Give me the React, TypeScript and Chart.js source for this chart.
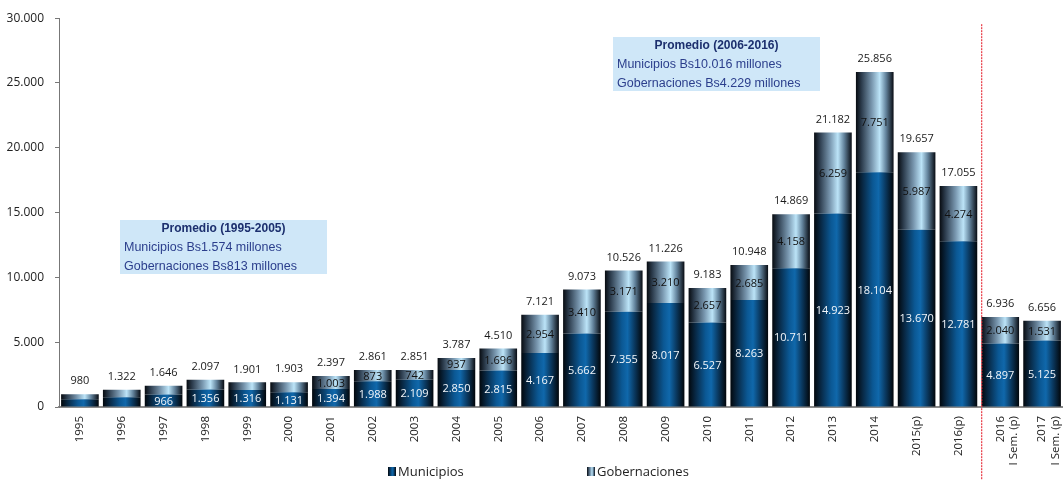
import React, { useEffect, useRef } from 'react';
import { Chart, registerables } from 'chart.js';

Chart.register(...registerables);

const categories: (string | string[])[] = [
  '1995', '1996', '1997', '1998', '1999', '2000', '2001', '2002', '2003', '2004',
  '2005', '2006', '2007', '2008', '2009', '2010', '2011', '2012', '2013', '2014',
  '2015(p)', '2016(p)', ['2016', 'I Sem. (p)'], ['2017', 'I Sem. (p)'],
];

const municipios = [
  590, 745, 966, 1356, 1316, 1131, 1394, 1988, 2109, 2850,
  2815, 4167, 5662, 7355, 8017, 6527, 8263, 10711, 14923, 18104,
  13670, 12781, 4897, 5125,
];

const gobernaciones = [
  390, 577, 680, 741, 585, 772, 1003, 873, 742, 937,
  1696, 2954, 3410, 3171, 3210, 2657, 2685, 4158, 6259, 7751,
  5987, 4274, 2040, 1531,
];

const totals = [
  980, 1322, 1646, 2097, 1901, 1903, 2397, 2861, 2851, 3787,
  4510, 7121, 9073, 10526, 11226, 9183, 10948, 14869, 21182, 25856,
  19657, 17055, 6936, 6656,
];

// first category index whose segment value is printed inside the bar
const MUN_LABEL_FROM = 2;
const GOB_LABEL_FROM = 6;

const Y_MAX = 30000;
const Y_STEP = 5000;

const boxTitles = ['Promedio (1995-2005)', 'Promedio (2006-2016)'];
const boxLines = [
  ['Municipios Bs1.574 millones', 'Gobernaciones Bs813 millones'],
  ['Municipios Bs10.016 millones', 'Gobernaciones Bs4.229 millones'],
];

const BAR_PCT = 0.9;
const FONT = '"Open Sans", "Noto Sans", sans-serif';
const ARIAL = '"Liberation Sans", Arial, sans-serif';

type Stop = [number, string];
const munStops: Stop[] = [
  [0, '#02070c'], [0.18, '#082844'], [0.45, '#0b5894'], [0.6, '#1068ab'],
  [0.78, '#0a3a62'], [1, '#02060a'],
];
const gobStops: Stop[] = [
  [0, '#070b10'], [0.15, '#2c3c4d'], [0.42, '#7896ae'], [0.63, '#bce4f8'],
  [0.8, '#62829b'], [1, '#070b12'],
];

const fmt = (v: number) => String(Math.round(v)).replace(/\B(?=(\d{3})+(?!\d))/g, '.');

function barGradient(stops: Stop[]) {
  return (c: any) => {
    const chart = c.chart;
    const xs = chart.scales && chart.scales.x;
    if (!xs || c.dataIndex == null || !isFinite(xs.width) || xs.width <= 0) return stops[3][1];
    const cx = xs.getPixelForValue(c.dataIndex);
    const w = (xs.width / categories.length) * BAR_PCT;
    const g = chart.ctx.createLinearGradient(cx - w / 2, 0, cx + w / 2, 0);
    stops.forEach(([o, col]) => g.addColorStop(o, col));
    return g;
  };
}

const labelsPlugin = {
  id: 'valueLabels',
  afterDatasetsDraw(chart: any) {
    const ctx = chart.ctx;
    const m0 = chart.getDatasetMeta(0).data;
    const m1 = chart.getDatasetMeta(1).data;
    ctx.save();
    ctx.textAlign = 'center';
    ctx.textBaseline = 'middle';
    ctx.font = `11px ${FONT}`;
    for (let i = 0; i < categories.length; i++) {
      const a = m0[i];
      const b = m1[i];
      if (!a || !b) continue;
      if (i >= MUN_LABEL_FROM) {
        ctx.fillStyle = '#f2f6fa';
        ctx.fillText(fmt(municipios[i]), a.x, (a.y + a.base) / 2 + 1);
      }
      if (i >= GOB_LABEL_FROM) {
        ctx.fillStyle = '#111';
        ctx.fillText(fmt(gobernaciones[i]), b.x, (b.y + b.base) / 2 + 1);
      }
      ctx.fillStyle = '#1a1a1a';
      ctx.fillText(fmt(totals[i]), b.x, b.y - 13);
    }
    ctx.restore();
  },
};

const decorPlugin = {
  id: 'decor',
  afterDraw(chart: any) {
    const ctx = chart.ctx;
    const xs = chart.scales.x;
    const ys = chart.scales.y;
    const area = chart.chartArea;
    ctx.save();
    // separator between annual and semester data
    const sx = Math.round((xs.getPixelForValue(21) + xs.getPixelForValue(22)) / 2) + 2;
    ctx.fillStyle = '#ea4852';
    for (let y = area.top + 6; y < chart.height - 2; y += 3) {
      ctx.fillRect(sx, y, 1.3, 2);
    }

    // average boxes
    const anchors = [
      { idx: 0.96, val: 14425 },
      { idx: 12.74, val: 28542 },
    ];
    const step = xs.getPixelForValue(1) - xs.getPixelForValue(0);
    anchors.forEach((an, k) => {
      const left = Math.round(xs.getPixelForValue(0) + an.idx * step);
      const top = Math.round(ys.getPixelForValue(an.val));
      const w = 207;
      const h = 54;
      ctx.fillStyle = '#cfe7f8';
      ctx.fillRect(left, top, w, h);
      ctx.textBaseline = 'middle';
      ctx.textAlign = 'center';
      ctx.fillStyle = '#1c2f6e';
      ctx.font = `bold 12px ${ARIAL}`;
      ctx.fillText(boxTitles[k], left + w / 2, top + 9);
      ctx.textAlign = 'left';
      ctx.fillStyle = '#2b3e8c';
      ctx.font = `12.5px ${ARIAL}`;
      ctx.fillText(boxLines[k][0], left + 4, top + 28);
      ctx.fillText(boxLines[k][1], left + 4, top + 47);
    });

    // legend
    const items = [
      { text: chart.data.datasets[0].label, stops: munStops, frac: 0.365 },
      { text: chart.data.datasets[1].label, stops: gobStops, frac: 0.552 },
    ];
    items.forEach((it) => {
      const bx = Math.round(chart.width * it.frac);
      const by = chart.height - 14;
      const g = ctx.createLinearGradient(bx, 0, bx + 8, 0);
      it.stops.forEach(([o, c]: Stop) => g.addColorStop(o, c));
      ctx.fillStyle = g;
      ctx.fillRect(bx, by, 8, 9);
      ctx.fillStyle = '#222';
      ctx.font = `13px ${FONT}`;
      ctx.textAlign = 'left';
      ctx.textBaseline = 'alphabetic';
      ctx.fillText(it.text, bx + 10, by + 9);
    });
    ctx.restore();
  },
};

export default function App() {
  const ref = useRef<HTMLCanvasElement | null>(null);
  useEffect(() => {
    if (!ref.current) return;
    const chart = new Chart(ref.current, {
      type: 'bar',
      data: {
        labels: categories,
        datasets: [
          {
            label: 'Municipios',
            data: municipios,
            backgroundColor: barGradient(munStops),
            borderWidth: 0,
            barPercentage: BAR_PCT,
            categoryPercentage: 1,
          },
          {
            label: 'Gobernaciones',
            data: gobernaciones,
            backgroundColor: barGradient(gobStops),
            borderWidth: 0,
            barPercentage: BAR_PCT,
            categoryPercentage: 1,
          },
        ],
      },
      options: {
        animation: false,
        responsive: true,
        maintainAspectRatio: false,
        layout: { padding: { left: 6, right: 0, top: 16, bottom: 0 } },
        plugins: {
          legend: { display: false },
          tooltip: { enabled: false },
        },
        scales: {
          x: {
            stacked: true,
            grid: { display: false, drawTicks: false },
            border: { display: true, color: '#8a8a8a', width: 2 },
            ticks: {
              color: '#222',
              font: { family: FONT, size: 11.5 },
              minRotation: 90,
              maxRotation: 90,
              padding: 9,
              autoSkip: false,
            },
            afterFit: (s: any) => {
              s.height = 74;
              s.paddingLeft = 0;
              s.paddingRight = 0;
            },
          },
          y: {
            stacked: true,
            min: 0,
            max: Y_MAX,
            grid: { drawOnChartArea: false, tickLength: 4, color: '#777' },
            border: { display: true, color: '#777', width: 1 },
            ticks: {
              stepSize: Y_STEP,
              color: '#222',
              font: { family: FONT, size: 12 },
              padding: 11,
              callback: (v: any) => fmt(Number(v)),
            },
            afterFit: (s: any) => {
              s.width = 53;
            },
          },
        },
      },
      plugins: [labelsPlugin, decorPlugin],
    });
    return () => chart.destroy();
  }, []);
  return (
    <div style={{ position: 'fixed', left: 0, top: 0, width: '100vw', height: '100vh' }}>
      <canvas ref={ref} />
    </div>
  );
}
